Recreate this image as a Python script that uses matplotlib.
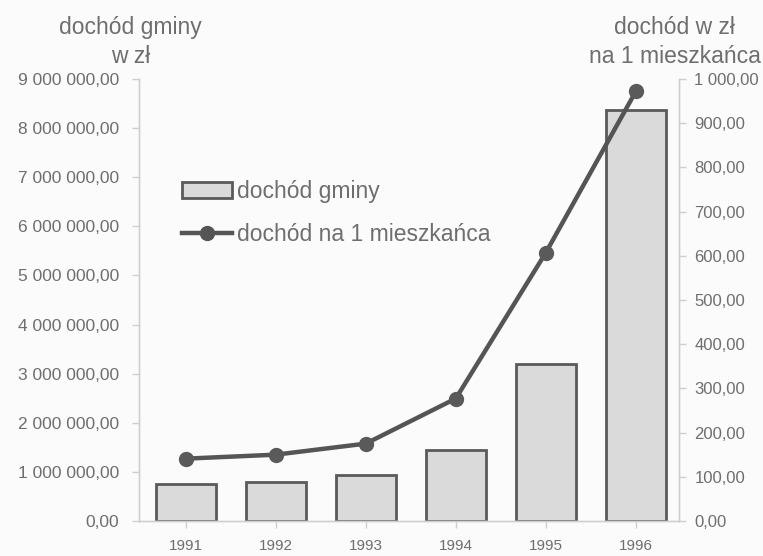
import matplotlib.pyplot as plt
from matplotlib.patches import Patch
from matplotlib.lines import Line2D
from matplotlib.ticker import FuncFormatter

plt.rcParams['font.family'] = ['Liberation Sans', 'DejaVu Sans']

years = ['1991', '1992', '1993', '1994', '1995', '1996']
dochod_gminy = [750000, 790000, 940000, 1450000, 3200000, 8370000]
dochod_na_mieszkanca = [141, 150, 175, 277, 607, 972]

grey_txt = '#6e6e6e'
grey_axis = '#cfcfcf'


def pl_fmt(v, pos=None):
    s = f'{v:,.2f}'
    return s.replace(',', ' ').replace('.', ',')


fig = plt.figure(figsize=(7.63, 5.56), dpi=100)
fig.patch.set_facecolor('#fbfbfb')
ax = fig.add_axes([0.182, 0.063, 0.708, 0.795])
ax.set_facecolor('none')

x = list(range(len(years)))
ax.bar(x, dochod_gminy, width=0.67, color='#dadada', edgecolor='#5a5a5a', linewidth=2, zorder=2)
ax.set_xlim(-0.52, 5.48)
ax.set_ylim(0, 9000000)
ax.set_yticks(range(0, 9000001, 1000000))
ax.yaxis.set_major_formatter(FuncFormatter(pl_fmt))
ax.set_xticks(x)
ax.set_xticklabels(years)

ax2 = ax.twinx()
ax2.plot(x, dochod_na_mieszkanca, color='#555555', linewidth=3.2, marker='o',
         markersize=10, markerfacecolor='#5a5a5a', markeredgecolor='#5a5a5a', zorder=3)
ax2.set_ylim(0, 1000)
ax2.set_yticks(range(0, 1001, 100))
ax2.yaxis.set_major_formatter(FuncFormatter(pl_fmt))

for a in (ax, ax2):
    for s in a.spines.values():
        s.set_color(grey_axis)
        s.set_linewidth(1)
    a.spines['top'].set_visible(False)
    a.tick_params(colors=grey_axis, labelcolor=grey_txt, length=5, width=1)

ax.tick_params(axis='y', labelsize=12.5, pad=9)
ax.tick_params(axis='x', labelsize=11, pad=8)
ax2.tick_params(axis='y', labelsize=12, pad=6)

fig.text(0.171, 0.95, 'dochód gminy', ha='center', va='center', fontsize=16.5, color=grey_txt)
fig.text(0.171, 0.898, 'w zł', ha='center', va='center', fontsize=16.5, color=grey_txt)
fig.text(0.884, 0.95, 'dochód w zł', ha='center', va='center', fontsize=16.5, color=grey_txt)
fig.text(0.884, 0.898, 'na 1 mieszkańca', ha='center', va='center', fontsize=16.5, color=grey_txt)

handles = [
    Patch(facecolor='#dadada', edgecolor='#5a5a5a', linewidth=2),
    Line2D([0], [0], color='#555555', linewidth=3.2, marker='o', markersize=10),
]
leg = ax.legend(handles, ['dochód gminy', 'dochód na 1 mieszkańca'],
                loc='upper left', bbox_to_anchor=(0.238, 0.676),
                bbox_transform=fig.transFigure, frameon=False,
                fontsize=16.5, handlelength=2.2, handletextpad=0.2,
                labelspacing=0.85, borderaxespad=0, borderpad=0)
for t in leg.get_texts():
    t.set_color(grey_txt)

plt.savefig('out.png', dpi=100, facecolor=fig.get_facecolor())
